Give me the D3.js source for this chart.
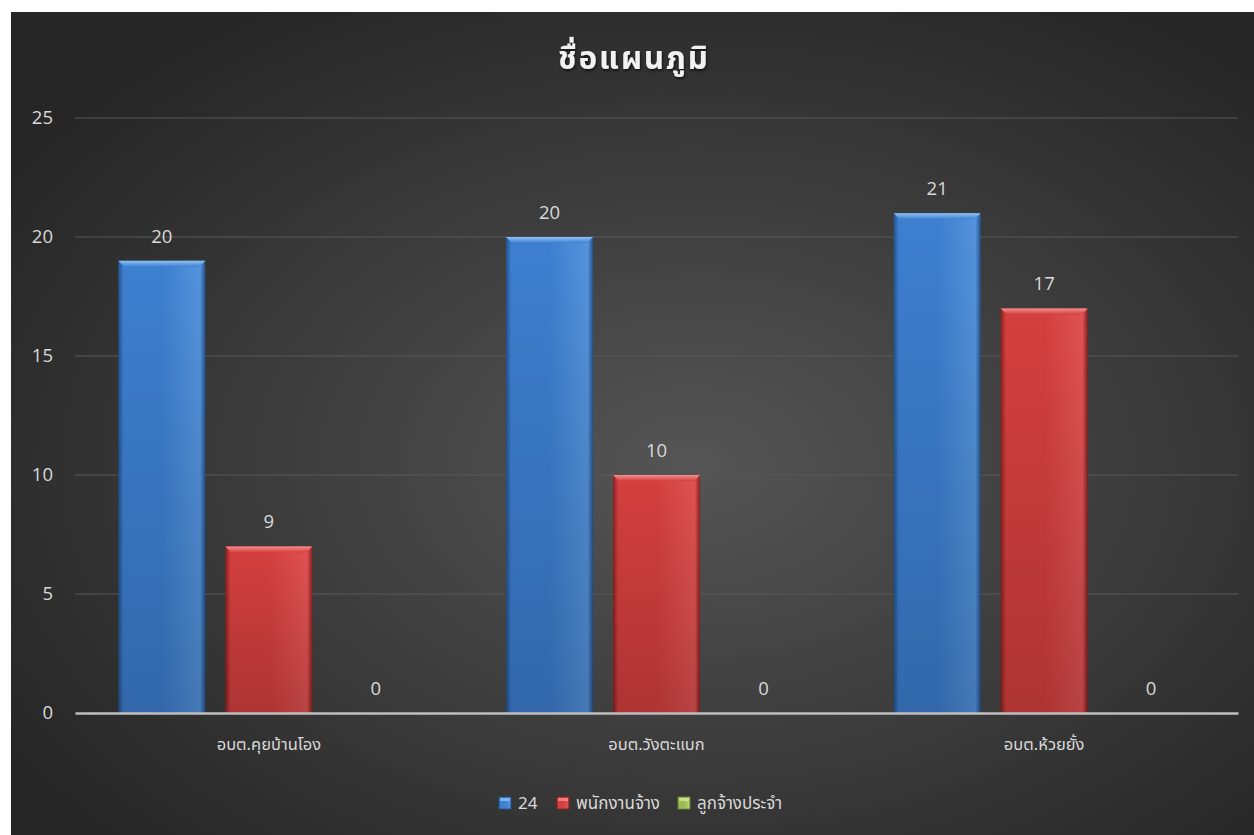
<!DOCTYPE html>
<html><head><meta charset="utf-8">
<script src="https://cdn.jsdelivr.net/npm/d3@7"></script>
<style>
html,body{margin:0;padding:0;background:#fff;}
svg{display:block;}
</style></head>
<body>
<svg id="chart" width="1254" height="835"></svg>
<script>
// ---- data ----
const categories = ["อบต.คุยบ้านโอง", "อบต.วังตะแบก", "อบต.ห้วยยั้ง"];
const seriesNames = ["24", "พนักงานจ้าง", "ลูกจ้างประจำ"];
const series24 = [19, 20, 21];
const seriesEmployee = [7, 10, 17];
const seriesPermanent = [0, 0, 0];
const labels24 = [20, 20, 21];
const labelsEmployee = [9, 10, 17];
const labelsPermanent = [0, 0, 0];
const yTicks = [0, 5, 10, 15, 20, 25];
const title = "ชื่อแผนภูมิ";

const seriesValues = [series24, seriesEmployee, seriesPermanent];
const seriesLabels = [labels24, labelsEmployee, labelsPermanent];
const colors = [
  {mid:"#3d7fd0", light:"#5493dc", dark:"#23538f", top:"#8fc3f5"},
  {mid:"#d43f3f", light:"#e05252", dark:"#8a2020", top:"#f59090"},
  {mid:"#9bbb59", light:"#b5d46e", dark:"#6b8a34", top:"#d6ea9c"}
];

const svg = d3.select("#chart");
const W = 1254, H = 835;
const defs = svg.append("defs");

// background gradient
const bg = defs.append("radialGradient").attr("id","bg")
  .attr("cx","55%").attr("cy","55%").attr("r","65%");
bg.append("stop").attr("offset","0%").attr("stop-color","#555555");
bg.append("stop").attr("offset","100%").attr("stop-color","#262626");
svg.append("rect").attr("x",11).attr("y",12).attr("width",W-11).attr("height",H-12).attr("fill","url(#bg)");

// bar gradients
colors.forEach((c,i)=>{
  const g = defs.append("linearGradient").attr("id","bar"+i).attr("x1","0").attr("x2","1").attr("y1","0").attr("y2","0");
  g.append("stop").attr("offset","0%").attr("stop-color",c.dark);
  g.append("stop").attr("offset","6%").attr("stop-color",c.mid);
  g.append("stop").attr("offset","50%").attr("stop-color",c.mid);
  g.append("stop").attr("offset","94%").attr("stop-color",c.light);
  g.append("stop").attr("offset","100%").attr("stop-color",c.dark);
  const v = defs.append("linearGradient").attr("id","shade"+i).attr("x1","0").attr("x2","0").attr("y1","0").attr("y2","1");
  v.append("stop").attr("offset","0%").attr("stop-color","#000").attr("stop-opacity",0);
  v.append("stop").attr("offset","100%").attr("stop-color","#000").attr("stop-opacity",0.18);
  const t = defs.append("linearGradient").attr("id","top"+i).attr("x1","0").attr("x2","0").attr("y1","0").attr("y2","1");
  t.append("stop").attr("offset","0%").attr("stop-color",c.top);
  t.append("stop").attr("offset","100%").attr("stop-color",c.mid);
});
const sh = defs.append("filter").attr("id","tshadow").attr("x","-10%").attr("y","-30%").attr("width","120%").attr("height","160%");
sh.append("feDropShadow").attr("dx",1).attr("dy",2).attr("stdDeviation",1.5).attr("flood-color","#000").attr("flood-opacity",0.6);

// scales
const x = d3.scaleBand().domain(categories).range([75, 1238]).paddingInner(0).paddingOuter(0);
const groupPad = x.bandwidth() * 0.1118;
const xs = d3.scaleBand().domain(seriesNames).range([groupPad, x.bandwidth() - groupPad]).paddingInner(0.187).paddingOuter(0);
const y = d3.scaleLinear().domain([0, 25]).range([713, 118]);

// gridlines
svg.append("g").selectAll("line").data(yTicks.filter(d=>d>0)).join("line")
  .attr("x1",75).attr("x2",1238).attr("y1",d=>y(d)).attr("y2",d=>y(d))
  .attr("stroke","#595959").attr("stroke-width",1);

// y axis labels
const yAxis = svg.append("g").attr("transform","translate(53,0)")
  .call(d3.axisLeft(y).tickValues(yTicks).tickSize(0).tickPadding(0).tickFormat(d3.format("d")));
yAxis.select(".domain").remove();
yAxis.selectAll("text").attr("fill","#d9d9d9").attr("font-size",18.5)
  .attr("font-family","'Open Sans','Noto Sans',sans-serif");

// title
svg.append("text").attr("x",634).attr("y",69).attr("text-anchor","middle")
  .attr("fill","#f2f2f2").attr("font-size",31).attr("font-weight","bold")
  .attr("letter-spacing","2")
  .attr("font-family","'Noto Sans','Noto Sans Thai',Tahoma,sans-serif")
  .attr("filter","url(#tshadow)").text(title);

// bars
const groups = svg.append("g").selectAll("g").data(categories).join("g")
  .attr("transform", d=>`translate(${x(d)},0)`);
seriesNames.forEach((s,si)=>{
  const data = categories.map((c,ci)=>({c, v: seriesValues[si][ci], lab: seriesLabels[si][ci]}));
  groups.each(function(c,ci){
    const d = data[ci];
    const g = d3.select(this);
    const bx = xs(s), bw = xs.bandwidth();
    const h = y(0) - y(d.v);
    if (h > 0) {
      g.append("rect").attr("x",bx).attr("y",y(d.v)).attr("width",bw).attr("height",h).attr("fill",`url(#bar${si})`);
      g.append("rect").attr("x",bx).attr("y",y(d.v)).attr("width",bw).attr("height",h).attr("fill",`url(#shade${si})`);
      // top bevel
      g.append("path").attr("d",`M${bx},${y(d.v)} L${bx+bw},${y(d.v)} L${bx+bw-6},${y(d.v)+6} L${bx+6},${y(d.v)+6} Z`)
        .attr("fill",`url(#top${si})`);
    }
    g.append("text").attr("x",bx + bw/2).attr("y",y(d.v) - 18).attr("text-anchor","middle")
      .attr("fill","#d9d9d9").attr("font-size",18.5)
      .attr("font-family","'Open Sans','Noto Sans',sans-serif").text(d.lab);
  });
});

// x axis
const xAxis = svg.append("g").attr("transform",`translate(0,${y(0)})`)
  .call(d3.axisBottom(x).tickSize(0).tickPadding(25));
xAxis.select(".domain").attr("stroke","#bfbfbf").attr("stroke-width",2.5);
xAxis.selectAll("text").attr("fill","#d9d9d9").attr("font-size",16.5)
  .attr("font-family","'Noto Sans','Noto Sans Thai',Tahoma,sans-serif");

// legend
const legendX = [499, 557, 678];
const legend = svg.append("g");
seriesNames.forEach((s,i)=>{
  const g = legend.append("g").attr("transform",`translate(${legendX[i]},797)`);
  g.append("rect").attr("width",12).attr("height",12).attr("fill",`url(#bar${i})`)
    .attr("stroke",colors[i].dark).attr("stroke-width",0.8);
  g.append("rect").attr("x",1).attr("y",1).attr("width",10).attr("height",3).attr("fill",colors[i].top).attr("opacity",0.8);
  g.append("text").attr("x",19).attr("y",12).attr("fill","#d9d9d9").attr("font-size",17)
    .attr("font-family","'Noto Sans','Noto Sans Thai',Tahoma,sans-serif").text(s);
});
</script>
</body></html>
